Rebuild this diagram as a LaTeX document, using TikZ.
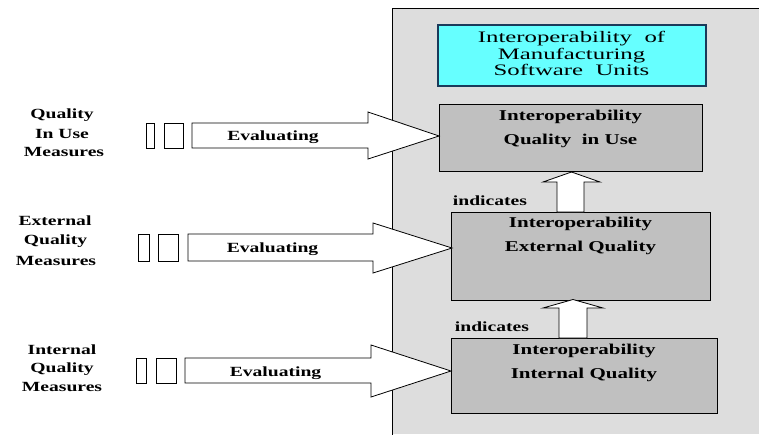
\documentclass[tikz,border=0pt]{standalone}
\usepackage{fontspec}
\setmainfont{Liberation Serif}[FakeStretch=1.4]
\newfontfamily\cyanfont{Liberation Serif}[FakeStretch=1.55]
\definecolor{panelgray}{RGB}{221,221,221}
\definecolor{boxgray}{RGB}{192,192,192}
\definecolor{cyanfill}{RGB}{102,255,255}
\definecolor{navy}{RGB}{26,58,90}
\begin{document}
\begin{tikzpicture}[x=1pt,y=-1pt,
  qbox/.style={draw=black,fill=boxgray,line width=0.9pt,inner sep=0pt},
  btext/.style={font=\fontsize{15}{15}\selectfont\bfseries,inner sep=0pt},
  lbl/.style={font=\fontsize{14}{14}\selectfont\bfseries,inner sep=0pt},
  evtext/.style={font=\fontsize{14}{14}\selectfont\bfseries,inner sep=0pt},
  blk/.style={draw=black,fill=white,line width=0.8pt,line join=miter},
  smallrect/.style={draw=black,fill=white,line width=0.8pt}]
\useasboundingbox (0,0) rectangle (759,434);
% panel
\fill[panelgray] (392,8) rectangle (759,434);
\draw[black,line width=0.9pt] (759.5,8) -- (392,8) -- (392,434.5);
% cyan box
\node[draw=navy,fill=cyanfill,line width=1.6pt,minimum width=268pt,minimum height=61pt,inner sep=0pt,anchor=north west] (mfg) at (437,24) {};
\node[inner sep=0pt,font=\cyanfont\fontsize{16}{16.7}\selectfont,align=center] (mfgtext) at (571.5,53.5) {Interoperability\ \ of\\Manufacturing\\Software\ \ Units};
% quality boxes
\node[qbox,minimum width=263pt,minimum height=67pt,anchor=north west] (qiu) at (439,104) {};
\node[btext] (qiua) at (570.5,117) {Interoperability};
\node[btext] (qiub) at (570.5,141) {Quality\ \ in Use};
\node[qbox,minimum width=259pt,minimum height=88pt,anchor=north west] (ext) at (451,212) {};
\node[btext] (exta) at (580.5,224) {Interoperability};
\node[btext] (extb) at (580.5,248) {External Quality};
\node[qbox,minimum width=266pt,minimum height=75pt,anchor=north west] (int) at (451,338) {};
\node[btext] (inta) at (584,351) {Interoperability};
\node[btext] (intb) at (584,375) {Internal Quality};
% indicates
\node[lbl] (ind1) at (490,201) {indicates};
\node[lbl] (ind2) at (492,327) {indicates};
% up arrows
\coordinate (u1tip) at (571.5,172);
\coordinate (u2tip) at (573,299.5);
\draw[blk] (557,212) -- (557,182) -- (543,182) -- (u1tip) -- (600,182) -- (584,182) -- (584,212) -- cycle;
\draw[blk] (559,338) -- (559,308) -- (543,308) -- (u2tip) -- (603,308) -- (587,308) -- (587,338) -- cycle;
% left labels
\node[lbl] (l1a) at (62,115) {Quality};
\node[lbl] (l1b) at (62,134) {In Use};
\node[lbl] (l1c) at (64,152) {Measures};
\node[lbl] (l2a) at (55,221) {External};
\node[lbl] (l2b) at (55.5,241) {Quality};
\node[lbl] (l2c) at (56,261) {Measures};
\node[lbl] (l3a) at (62,350) {Internal};
\node[lbl] (l3b) at (62,369) {Quality};
\node[lbl] (l3c) at (62,387) {Measures};
% small rects
\draw[smallrect] (146,123) rectangle (154,148);
\draw[smallrect] (164,123) rectangle (183,148);
\draw[smallrect] (138,234) rectangle (149,261);
\draw[smallrect] (158,234) rectangle (178,261);
\draw[smallrect] (136,358) rectangle (146,383);
\draw[smallrect] (156,358) rectangle (176,383);
% evaluating arrows
\coordinate (t1) at (qiu.west |- 0,136);
\coordinate (t2) at (452,248);
\coordinate (t3) at (int.west |- 0,371);
\draw[blk] (192,123) -- (368,123) -- (368,112) -- (t1) -- (368,159) -- (368,148) -- (192,148) -- cycle;
\draw[blk] (188,234) -- (373,234) -- (373,223) -- (t2) -- (373,273) -- (373,261) -- (188,261) -- cycle;
\draw[blk] (185,358) -- (371,358) -- (371,345) -- (t3) -- (371,397) -- (371,383) -- (185,383) -- cycle;
\node[evtext] (e1) at (273,137) {Evaluating};
\node[evtext] (e2) at (272.5,249) {Evaluating};
\node[evtext] (e3) at (275.5,373) {Evaluating};
\end{tikzpicture}
\end{document}
